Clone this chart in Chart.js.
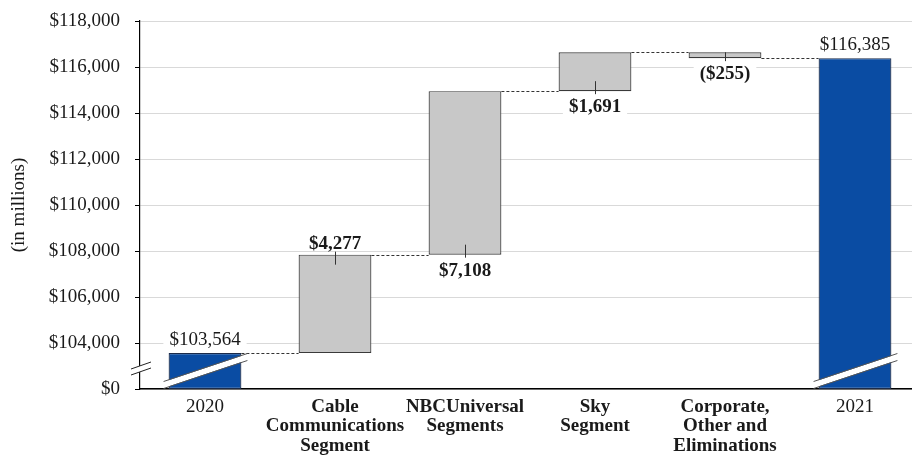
<!DOCTYPE html>
<html>
<head>
<meta charset="utf-8">
<script src="https://cdn.jsdelivr.net/npm/chart.js@4.4.1/dist/chart.umd.min.js"></script>
<style>
  html, body { margin: 0; padding: 0; background: #fff; overflow: hidden; }
  #wrap { width: 920px; height: 457px; }
</style>
</head>
<body>
<div id="wrap"><canvas id="bridge" width="920" height="457"></canvas></div>
<script>
// values (in millions)
const categories = [
    ['2020'],
    ['Cable', 'Communications', 'Segment'],
    ['NBCUniversal', 'Segments'],
    ['Sky', 'Segment'],
    ['Corporate,', 'Other and', 'Eliminations'],
    ['2021']
];
const startTotal = 103564;
const segmentChanges = [4277, 7108, 1691, -255];
const endTotal = 116385;
const axisBreak = 102000;   // position where the axis is cut ($0)
const yTicksMin = 102000;
const yTicksMax = 118000;
const yTickStep = 2000;

// build floating bars [from, to]
const bars = [[axisBreak, startTotal]];
let running = startTotal;
segmentChanges.forEach(c => {
    bars.push([running, running + c]);
    running += c;
});
bars.push([axisBreak, endTotal]);

const isTotal = [true, false, false, false, false, true];
const labelSide = ['top', 'top', 'bottom', 'bottom', 'bottom', 'top'];

const SERIF = "'Liberation Serif', 'Times New Roman', serif";
const BLUE = '#0a4ca3';
const GREY = '#c8c8c8';

function money(v) {
    const s = '$' + Math.abs(v).toLocaleString('en-US');
    return v < 0 ? '(' + s + ')' : s;
}
const barLabels = bars.map((b, i) => isTotal[i] ? money(b[1]) : money(segmentChanges[i - 1]));

const bridgePlugin = {
    id: 'bridge',
    afterDatasetsDraw(chart) {
        const ctx = chart.ctx;
        const meta = chart.getDatasetMeta(0);
        const y = chart.scales.y;
        const els = meta.data;

        ctx.save();
        // dashed connectors
        ctx.strokeStyle = '#333';
        ctx.lineWidth = 1;
        ctx.setLineDash([3, 2]);
        for (let i = 0; i < els.length - 1; i++) {
            const a = els[i], b = els[i + 1];
            const yy = Math.round(y.getPixelForValue(bars[i][1])) + 0.5;
            ctx.beginPath();
            ctx.moveTo(a.x + a.width / 2, yy);
            ctx.lineTo(b.x - b.width / 2, yy);
            ctx.stroke();
        }
        ctx.setLineDash([]);

        // small centre marks on the change bars
        ctx.strokeStyle = '#333';
        for (let i = 1; i < els.length - 1; i++) {
            const el = els[i];
            const top = Math.min(el.y, el.base), bottom = Math.max(el.y, el.base);
            const h = bottom - top;
            const len = Math.min(10, h);
            const cx = Math.round(el.x) + 0.5;
            ctx.beginPath();
            if (labelSide[i] === 'top') {
                ctx.moveTo(cx, top - 3);
                ctx.lineTo(cx, top + len);
            } else {
                ctx.moveTo(cx, bottom + 3);
                ctx.lineTo(cx, bottom - len);
            }
            ctx.stroke();
        }

        // axis break bands across the total bars
        [0, els.length - 1].forEach(i => {
            const el = els[i];
            const x0 = el.x - el.width / 2 - 5, x1 = el.x + el.width / 2 + 6;
            const bottom = el.base;
            const y0 = bottom - 4, y1 = bottom - 32;
            ctx.lineCap = 'butt';
            ctx.strokeStyle = '#fff';
            ctx.lineWidth = 6;
            ctx.beginPath();
            ctx.moveTo(x0, y0); ctx.lineTo(x1, y1); ctx.stroke();
            ctx.strokeStyle = '#555';
            ctx.lineWidth = 1;
            [-3.5, 3.5].forEach(d => {
                ctx.beginPath();
                ctx.moveTo(x0, y0 + d); ctx.lineTo(x1, y1 + d); ctx.stroke();
            });
        });

        // break mark on the y axis
        const ax = chart.chartArea.left;
        const my = y.getPixelForValue(axisBreak + 1000) + 6;
        ctx.fillStyle = '#fff';
        ctx.beginPath();
        ctx.moveTo(ax - 9, my + 3); ctx.lineTo(ax + 11, my - 4);
        ctx.lineTo(ax + 11, my - 10); ctx.lineTo(ax - 9, my - 3);
        ctx.closePath(); ctx.fill();
        ctx.strokeStyle = '#222';
        ctx.lineWidth = 1;
        [[3, -4], [-3, -10]].forEach(([a, b]) => {
            ctx.beginPath();
            ctx.moveTo(ax - 9, my + a); ctx.lineTo(ax + 11, my + b); ctx.stroke();
        });

        // value labels
        ctx.textAlign = 'center';
        ctx.textBaseline = 'middle';
        els.forEach((el, i) => {
            ctx.font = (isTotal[i] ? 'normal' : 'bold') + ' 19px ' + SERIF;
            const top = Math.min(el.y, el.base), bottom = Math.max(el.y, el.base);
            const ty = labelSide[i] === 'top' ? top - (isTotal[i] ? 14 : 12) : bottom + 15;
            const w = ctx.measureText(barLabels[i]).width;
            ctx.fillStyle = '#fff';
            ctx.fillRect(el.x - w / 2 - 6, ty - 9, w + 12, 17);
            ctx.fillStyle = '#1a1a1a';
            ctx.fillText(barLabels[i], el.x, ty + 1);
        });
        ctx.restore();
    }
};

new Chart(document.getElementById('bridge').getContext('2d'), {
    type: 'bar',
    data: {
        labels: categories,
        datasets: [{
            data: bars,
            backgroundColor: bars.map((b, i) => isTotal[i] ? BLUE : GREY),
            borderColor: bars.map((b, i) => isTotal[i] ? '#1b2b4a' : '#3a3a3a'),
            borderWidth: 1.2,
            borderSkipped: false,
            barPercentage: 0.56,
            categoryPercentage: 1
        }]
    },
    options: {
        responsive: false,
        animation: false,
        layout: { padding: { top: 21, left: 0, right: 0, bottom: 0 } },
        plugins: {
            legend: { display: false },
            tooltip: { enabled: false }
        },
        scales: {
            x: {
                grid: { display: false, drawTicks: false },
                border: { color: '#000', width: 1.5 },
                ticks: {
                    color: '#1a1a1a',
                    padding: 8,
                    maxRotation: 0,
                    autoSkip: false,
                    font: ctx => ({
                        family: SERIF,
                        size: 19,
                        lineHeight: 1.03,
                        weight: (ctx.index > 0 && ctx.index < categories.length - 1) ? 'bold' : 'normal'
                    })
                },
                afterFit: scale => { scale.height = 68; }
            },
            y: {
                min: yTicksMin,
                max: yTicksMax,
                grid: {
                    color: '#d9d9d9',
                    tickColor: '#000',
                    tickLength: 5
                },
                border: { color: '#000', width: 1.2 },
                ticks: {
                    stepSize: yTickStep,
                    padding: 15,
                    color: '#1a1a1a',
                    font: { family: SERIF, size: 19 },
                    callback: v => v === axisBreak ? '$0' : '$' + v.toLocaleString('en-US')
                },
                title: {
                    display: true,
                    text: '(in millions)',
                    color: '#1a1a1a',
                    font: { family: SERIF, size: 19 },
                    padding: { top: 8, bottom: 0 }
                },
                afterFit: scale => {
                    scale.width = 140;
                    scale.paddingTop = 0;
                    scale.paddingBottom = 0;
                }
            }
        }
    },
    plugins: [bridgePlugin]
});
</script>
</body>
</html>
